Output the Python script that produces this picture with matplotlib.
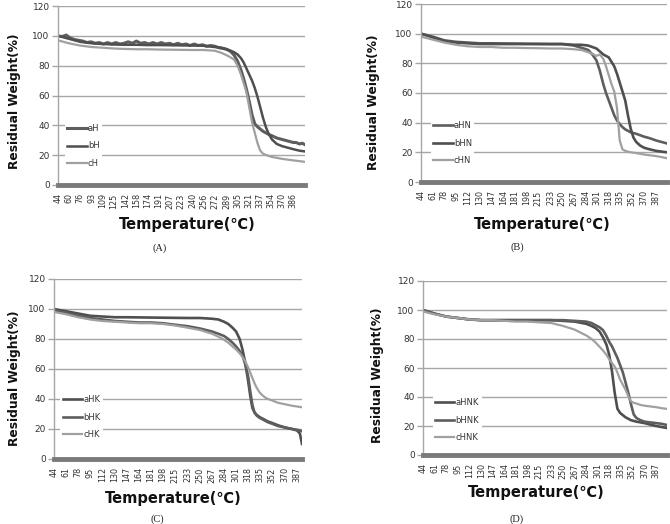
import matplotlib
matplotlib.use("Agg")
import matplotlib.pyplot as plt

plt.rcParams['font.family'] = ['DejaVu Sans', 'Noto Sans CJK KR']

# ---------------- data ----------------
# Panel A
ticks_A = [44, 60, 76, 93, 109, 125, 142, 158, 174, 191, 207, 223, 240, 256, 272, 289, 305, 321, 337, 354, 370, 386]
T_A = [44, 60, 76, 93, 109, 125, 142, 158, 174, 191, 207, 223, 240, 256, 272, 282, 289, 295, 300, 305, 310, 314,
       318, 322, 326, 330, 334, 338, 342, 346, 350, 355, 362, 370, 378, 386, 395, 403]
T_aH = [44, 50, 56, 62, 68, 74, 80, 86, 92, 98, 104, 110, 116, 122, 128, 134, 140, 146, 152, 158, 164, 170, 176,
        182, 188, 194, 200, 206, 212, 218, 224, 230, 236, 242, 248, 254, 260, 266, 272, 278, 284, 289, 295, 300,
        305, 310, 314, 318, 322, 326, 328, 330, 334, 338, 342, 346, 350, 355, 362, 370, 378, 386, 390, 395, 399, 403]
aH = [100, 99.5, 100.5, 98.5, 97.5, 97, 96.5, 95.5, 96, 95, 95.5, 94.5, 95.5, 94.5, 95.5, 94.5, 95, 96, 95, 96.5,
      95, 95.5, 94.5, 95.5, 94.5, 95.5, 94.5, 95, 94, 95, 94, 94.5, 93.5, 94.5, 93.5, 94, 93, 93.5, 93, 92, 91.5,
      91, 89.5, 87, 83, 77, 71, 64, 56, 47, 44, 41, 39, 37.5, 36, 35, 34, 33, 31.5, 30.5, 29.5, 28.5, 28.5, 27.5, 28, 27]
bH = [100, 98, 96, 95, 94.5, 94.2, 94, 94, 93.8, 93.8, 93.7, 93.6, 93.5, 93.3, 92.5, 92, 91, 90, 89, 87.5, 85,
      82, 78, 74, 70, 65, 59, 52, 45, 39, 34.5, 30.5, 27.5, 26, 25, 24, 23, 22.5]
cH = [97, 95, 93.5, 92.5, 92, 91.5, 91.2, 91, 91, 90.8, 90.7, 90.6, 90.5, 90.5, 90, 88.5, 87, 85.5, 84, 80, 74,
      68, 62, 52, 42, 35, 28, 23, 21, 20.2, 19.5, 18.8, 18.2, 17.5, 17, 16.5, 16, 15.5]

# Panel B
ticks_B = [44, 61, 78, 95, 112, 130, 147, 164, 181, 198, 215, 233, 250, 267, 284, 301, 318, 335, 352, 370, 387]
T_B = [44, 61, 78, 95, 112, 130, 147, 164, 181, 198, 215, 233, 250, 267, 278, 288, 294, 300, 305, 310, 314, 318,
       322, 326, 330, 334, 338, 342, 346, 350, 354, 358, 364, 370, 378, 387, 395, 403]
aHN = [100, 98, 95.5, 94.5, 94, 93.5, 93.5, 93.4, 93.3, 93.2, 93.1, 93, 93, 92, 90.5, 89, 86, 82, 75, 66, 60, 55,
       50, 45, 41.5, 39, 37, 35.5, 34.5, 33.5, 33, 32.5, 31.5, 30.5, 29.5, 28, 27, 26]
bHN = [100, 97.5, 95, 94, 93.5, 93, 93, 93, 93, 93, 93, 93, 93, 92.5, 92.5, 92, 91, 90, 88, 86, 85, 84, 81, 78,
       73, 67, 61, 55, 45, 36, 30, 27, 24.5, 23, 22, 21, 20.5, 20]
cHN = [98, 96, 94, 92.5, 91.5, 91, 91, 90.5, 90.5, 90.3, 90.2, 90, 90, 89.5, 89, 87.5, 86.5, 85, 86, 83, 78, 72,
       66, 61, 50, 28, 22, 21, 20.5, 20, 19.8, 19.5, 19, 18.5, 18, 17.5, 16.8, 16]

# Panel C
ticks_C = ticks_B
T_C = [44, 61, 78, 95, 112, 130, 147, 164, 181, 198, 215, 233, 250, 267, 276, 284, 290, 296, 301, 306, 310, 314,
       318, 321, 324, 327, 330, 334, 338, 342, 346, 352, 360, 370, 380, 387, 391, 394]
aHK = [100, 98.5, 97, 95.5, 95, 94.5, 94.5, 94.4, 94.3, 94.2, 94.1, 94, 94, 93.5, 93, 91.5, 90, 87.5, 85, 80, 73,
       64, 52, 42, 34, 31, 29.5, 28, 27, 26, 25, 24, 22.5, 21, 20, 19, 17, 10]
bHK = [99, 97.5, 95.5, 94, 93, 92, 91.5, 91, 91, 90.5, 89.5, 88.5, 87, 85, 83.5, 82, 80, 77.5, 75, 72, 69, 63,
       55, 45, 36, 31, 29, 27.5, 26.5, 25.5, 24.5, 23.5, 22, 21, 20, 19.5, 19, 18.5]
cHK = [98, 96.5, 94.5, 93, 92, 91.5, 91, 90.5, 90.5, 90, 89, 87.5, 86, 83.5, 81.5, 79.5, 77.5, 75, 73, 70.5, 68,
       65, 61, 57.5, 54, 50.5, 47.5, 44.5, 42.5, 41, 40, 39, 37.5, 36.5, 35.5, 35, 34.7, 34.5]

# Panel D
ticks_D = ticks_B
T_D = [44, 61, 78, 95, 112, 130, 147, 164, 181, 198, 215, 233, 250, 267, 284, 292, 298, 304, 309, 314, 318, 322,
       326, 330, 334, 338, 342, 346, 350, 354, 358, 364, 370, 378, 387, 395, 403]
aHNK = [100, 97.5, 95.5, 94.5, 93.5, 93, 93, 93, 93, 93, 93, 93, 92.5, 92, 90.5, 89, 87.5, 85, 81, 76, 69, 58,
        43, 32, 29, 27.5, 26, 25, 24, 23.5, 23, 22.5, 22, 21, 20, 19.3, 18.6]
bHNK = [100, 97.5, 95.5, 94.5, 93.5, 93, 93, 93, 93, 93, 93, 93, 93, 92.5, 92, 91, 89.5, 88, 86, 82, 78, 75,
        71, 67, 62, 57, 50, 43, 35, 28, 25.5, 24, 23, 22.5, 22, 21.5, 20.7]
cHNK = [99, 97, 95.5, 94.5, 93.5, 93, 93, 92.5, 92, 92, 91.5, 91, 89, 86.5, 82.5, 80, 77.5, 74.5, 72, 69, 66,
        63.5, 61, 57, 52, 48.5, 45, 40.5, 37, 36, 35.5, 34.5, 34, 33.5, 33, 32.3, 31.8]

# ---------------- styling ----------------
DARK1 = '#4f4f4f'
DARK2 = '#5e5e5e'
LIGHT = '#a0a0a0'
GRID = '#a6a6a6'
TXT = '#333333'

fig = plt.figure(figsize=(6.7, 5.24), dpi=100)
W, H = 670.0, 524.0


def px_axes(left, right, top, bottom):
    return [left / W, 1 - bottom / H, (right - left) / W, (bottom - top) / H]


panels = [
    dict(rect=px_axes(58, 305, 6, 185), xlim=(44, 403), ticks=ticks_A,
         series=[(T_aH, aH, 'aH', DARK2, 2.2), (T_A, bH, 'bH', DARK1, 1.8), (T_A, cH, 'cH', LIGHT, 1.6)],
         leg=(0.028, 0.218), ylab=(15, 101), xlab=(187, 225), cap=(160, 248, '(A)')),
    dict(rect=px_axes(421, 667, 4, 182), xlim=(44, 403), ticks=ticks_B,
         series=[(T_B, aHN, 'aHN', DARK2, 1.9), (T_B, bHN, 'bHN', DARK1, 1.9), (T_B, cHN, 'cHN', LIGHT, 1.6)],
         leg=(0.040, 0.219), ylab=(374, 102), xlab=(542, 225), cap=(517, 247, '(B)')),
    dict(rect=px_axes(54, 302, 279, 459), xlim=(44, 394), ticks=ticks_C,
         series=[(T_C, aHK, 'aHK', DARK1, 1.9), (T_C, bHK, 'bHK', DARK2, 1.9), (T_C, cHK, 'cHK', LIGHT, 1.6)],
         leg=(0.026, 0.233), ylab=(15, 378), xlab=(173, 499), cap=(157, 519, '(C)')),
    dict(rect=px_axes(423, 667, 281, 455), xlim=(44, 403), ticks=ticks_D,
         series=[(T_D, aHNK, 'aHNK', DARK1, 1.9), (T_D, bHNK, 'bHNK', DARK2, 1.9), (T_D, cHNK, 'cHNK', LIGHT, 1.6)],
         leg=(0.039, 0.201), ylab=(377, 375), xlab=(536, 493), cap=(517, 519, '(D)')),
]

for p in panels:
    ax = fig.add_axes(p['rect'])
    ax.set_xlim(*p['xlim'])
    ax.set_ylim(0, 120)
    ax.set_yticks(range(0, 121, 20))
    ax.yaxis.grid(True, color=GRID, lw=1.0)
    ax.set_axisbelow(True)
    for s in ['top', 'right', 'bottom']:
        ax.spines[s].set_visible(False)
    ax.spines['left'].set_color(GRID)
    ax.spines['left'].set_linewidth(1.0)
    ax.tick_params(axis='y', length=4, width=1.0, color=GRID, labelsize=6.5, labelcolor=TXT, pad=2)
    ax.set_xticks(p['ticks'])
    ax.set_xticklabels([str(t) for t in p['ticks']], rotation=90)
    ax.tick_params(axis='x', length=0, labelsize=5.8, labelcolor=TXT, pad=6)
    for tx, ty, lab, col, lw in p['series']:
        ax.plot(tx, ty, color=col, lw=lw, label=lab, solid_joinstyle='round')
    ax.axhline(0, color='#7a7a7a', lw=3.5, zorder=5, clip_on=False)
    leg = ax.legend(loc='center left', bbox_to_anchor=p['leg'], frameon=True, fontsize=6,
                    handlelength=2.3, handletextpad=0.15, labelspacing=1.05, borderpad=0.3,
                    borderaxespad=0)
    leg.get_frame().set_facecolor('white')
    leg.get_frame().set_edgecolor('none')
    leg.get_frame().set_alpha(1)
    for t in leg.get_texts():
        t.set_color(TXT)
    yx, yy = p['ylab']
    fig.text(yx / W, 1 - yy / H, 'Residual Weight(%)', rotation=90, ha='center', va='center',
             fontsize=8.8, fontweight='bold', color='#111111')
    xx, xy = p['xlab']
    fig.text(xx / W, 1 - xy / H, 'Temperature(℃)', ha='center', va='center',
             fontsize=10.5, fontweight='bold', color='#111111')
    cx, cy, ct = p['cap']
    fig.text(cx / W, 1 - cy / H, ct, ha='center', va='center', fontsize=7.5,
             family=['Liberation Serif', 'DejaVu Serif'], color='#222222')

fig.savefig('out.png', dpi=100)
